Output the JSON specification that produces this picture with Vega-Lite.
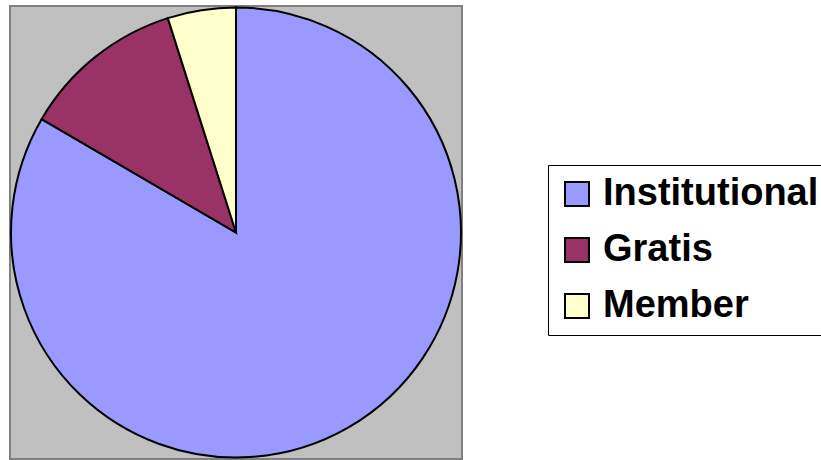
{
  "$schema": "https://vega.github.io/schema/vega-lite/v6.json",
  "width": 452,
  "height": 453,
  "autosize": {"type": "none"},
  "padding": {"left": 10, "top": 6, "right": 359, "bottom": 1},
  "background": "white",
  "view": {"fill": "#C0C0C0", "stroke": "#808080", "strokeWidth": 2},
  "data": {
    "values": [
      {"category": "Institutional", "value": 83.4, "rank": 1},
      {"category": "Gratis", "value": 11.7, "rank": 2},
      {"category": "Member", "value": 4.9, "rank": 3}
    ]
  },
  "mark": {"type": "arc", "outerRadius": 225, "stroke": "black", "strokeWidth": 2},
  "encoding": {
    "theta": {"field": "value", "type": "quantitative", "stack": true},
    "order": {"field": "rank", "type": "quantitative"},
    "color": {
      "field": "category",
      "type": "nominal",
      "scale": {
        "domain": ["Institutional", "Gratis", "Member"],
        "range": ["#9999FF", "#993366", "#FFFFCC"]
      },
      "legend": {
        "title": null,
        "orient": "none",
        "legendX": 538,
        "legendY": 159,
        "fillColor": "white",
        "strokeColor": "black",
        "padding": 10,
        "symbolType": "square",
        "symbolSize": 576,
        "symbolStrokeColor": "black",
        "symbolStrokeWidth": 2,
        "symbolOpacity": 1,
        "labelFont": "Liberation Sans",
        "labelFontWeight": "bold",
        "labelFontSize": 38,
        "labelColor": "black",
        "labelOffset": 7,
        "labelLimit": 400,
        "rowPadding": 18
      }
    }
  }
}
